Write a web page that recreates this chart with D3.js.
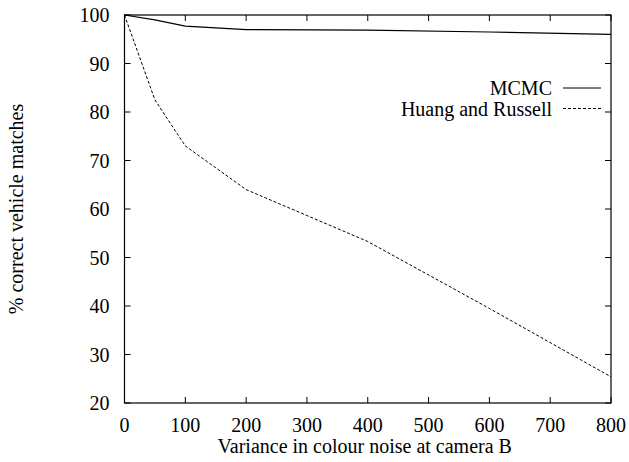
<!DOCTYPE html>
<html><head><meta charset="utf-8">
<script src="https://cdn.jsdelivr.net/npm/d3@7"></script>
</head><body style="margin:0"><svg id="c" width="629" height="462"></svg>
<script>
const xTicks = [0,100,200,300,400,500,600,700,800];
const yTicks = [20,30,40,50,60,70,80,90,100];
const mcmcX = [0,50,100,200,400,600,800];
const mcmcY = [100,99,97.7,97.0,96.9,96.5,96.0];
const hrX = [0,50,100,200,400,600,800];
const hrY = [100,82.5,73,64,53.3,39.5,25.4];
const seriesNames = ["MCMC","Huang and Russell"];

const svg = d3.select("#c");
const FF = "Liberation Serif";
const L=124.5, R=611, T=15, B=403;
const x = d3.scaleLinear().domain([0,800]).range([L,R]);
const y = d3.scaleLinear().domain([20,100]).range([B,T]);
const fs = 20;
function txt(sel){ return sel.attr("font-family",FF).attr("font-size",fs); }

const tl = 6;
xTicks.forEach(v=>{
  svg.append("line").attr("x1",x(v)).attr("x2",x(v)).attr("y1",B).attr("y2",B-tl).attr("stroke","#000");
  svg.append("line").attr("x1",x(v)).attr("x2",x(v)).attr("y1",T).attr("y2",T+tl).attr("stroke","#000");
  txt(svg.append("text")).attr("x",x(v)).attr("y",B+29).attr("text-anchor","middle").text(v);
});
yTicks.forEach(v=>{
  svg.append("line").attr("x1",L).attr("x2",L+tl).attr("y1",y(v)).attr("y2",y(v)).attr("stroke","#000");
  svg.append("line").attr("x1",R).attr("x2",R-tl).attr("y1",y(v)).attr("y2",y(v)).attr("stroke","#000");
  txt(svg.append("text")).attr("x",L-15).attr("y",y(v)+7).attr("text-anchor","end").text(v);
});
svg.append("rect").attr("x",L).attr("y",T).attr("width",R-L).attr("height",B-T).attr("fill","none").attr("stroke","#000").attr("stroke-width",1.2);

const line = d3.line().x(d=>x(d[0])).y(d=>y(d[1]));
svg.append("path").datum(mcmcX.map((v,i)=>[v,mcmcY[i]])).attr("d",line).attr("fill","none").attr("stroke","#000").attr("stroke-width",1.2);
svg.append("path").datum(hrX.map((v,i)=>[v,hrY[i]])).attr("d",line).attr("fill","none").attr("stroke","#000").attr("stroke-width",1).attr("stroke-dasharray","3,2");

const lg = [[seriesNames[0],88,null],[seriesNames[1],108.5,"3,2"]];
lg.forEach(d=>{
  txt(svg.append("text")).attr("x",552).attr("y",d[1]+7).attr("text-anchor","end").text(d[0]);
  svg.append("line").attr("x1",563).attr("x2",601).attr("y1",d[1]).attr("y2",d[1]).attr("stroke","#000").attr("stroke-width",1).attr("stroke-dasharray",d[2]);
});

txt(svg.append("text")).attr("x",(L+R)/2 - 3).attr("y",453).attr("text-anchor","middle").text("Variance in colour noise at camera B");
txt(svg.append("text")).attr("transform","translate(23,"+((T+B)/2)+") rotate(-90)").attr("text-anchor","middle").text("% correct vehicle matches");
</script></body></html>
